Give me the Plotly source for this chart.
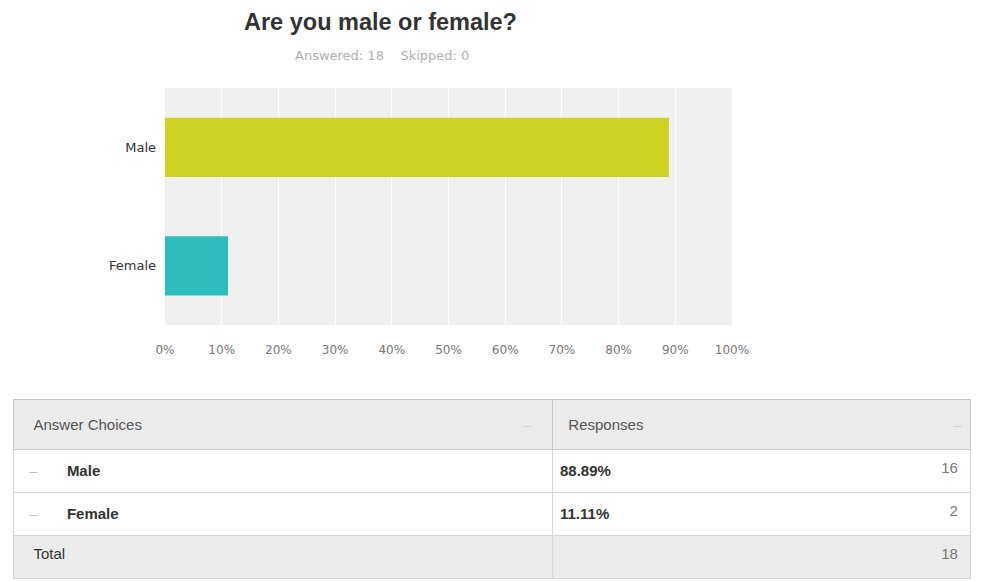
import plotly.graph_objects as go

# Survey question and responses
question = "Are you male or female?"
choices = ["Male", "Female"]
counts = [16, 2]
skipped = 0
bar_colors = ["#CDD424", "#2EBDBD"]
x_ticks = [0, 10, 20, 30, 40, 50, 60, 70, 80, 90, 100]
x_tick_text = [f"{v}%" for v in x_ticks]

answered = sum(counts)
percents = [c / answered * 100 for c in counts]

W, H = 982, 582
FONT = "Liberation Sans, Arial"

fig = go.Figure()

# Horizontal bar chart of the response shares
fig.add_trace(go.Bar(
    x=percents,
    y=choices,
    orientation="h",
    marker=dict(color=bar_colors, line=dict(width=0)),
    width=0.5,
    hoverinfo="skip",
    showlegend=False,
))

# Summary table
nb = "\u00a0"
dash = '<span style="color:#c4c4c4">\u2013</span>'
choice_cells = [f"{nb*2}{dash}{nb*7}<b>{c}</b>" for c in choices] + [f"{nb*3}Total"]
pct_cells = [f"<b>{p:.2f}%</b>" for p in percents] + [""]
count_cells = [f"{c}{nb}" for c in counts] + [f"{answered}{nb}"]

n_rows = len(choices) + 1
row_fill = ["white"] * len(choices) + ["#EBEBEB"]
tbl_top = 1 - 399 / H
tbl_x = [13 / W, 970 / W]
HDR_H, ROW_H = 50, 43
clear = "rgba(0,0,0,0)"

# Table frame: fills and rules
fig.add_trace(go.Table(
    domain=dict(x=tbl_x, y=[0, tbl_top]),
    columnwidth=[539, 418],
    header=dict(
        values=["", ""],
        fill_color="#EBEBEB",
        line=dict(color="#C8C8C8", width=1),
        height=HDR_H,
    ),
    cells=dict(
        values=[[""] * n_rows, [""] * n_rows],
        fill_color=[row_fill, row_fill],
        line=dict(color="#D6D6D6", width=1),
        height=ROW_H,
    ),
))

# Header text, nudged down to sit mid-row
hdr_shift = 12 / H
fig.add_trace(go.Table(
    domain=dict(x=tbl_x, y=[0, tbl_top - hdr_shift]),
    columnwidth=[539, 318, 100],
    header=dict(
        values=[
            f"{nb*3}Answer Choices",
            f"{nb*2}Responses",
            "",
        ],
        fill_color=clear,
        line=dict(color=clear, width=0),
        align="left",
        font=dict(family=FONT, size=15, color="#555555"),
        height=HDR_H,
    ),
    cells=dict(
        values=[[""] * n_rows] * 3,
        fill_color=clear,
        line=dict(color=clear, width=0),
        height=ROW_H,
    ),
))
fig.add_trace(go.Table(
    domain=dict(x=tbl_x, y=[0, tbl_top - hdr_shift]),
    columnwidth=[539, 318, 100],
    header=dict(
        values=[f"\u2013{nb*3}", "", "\u2013"],
        fill_color=clear,
        line=dict(color=clear, width=0),
        align="right",
        font=dict(family=FONT, size=15, color="#D0D0D0"),
        height=HDR_H,
    ),
    cells=dict(
        values=[[""] * n_rows] * 3,
        fill_color=clear,
        line=dict(color=clear, width=0),
        height=ROW_H,
    ),
))

# Body text: choices, percentages and counts
row_shift = 5 / H
fig.add_trace(go.Table(
    domain=dict(x=tbl_x, y=[0, tbl_top - row_shift]),
    columnwidth=[539, 318, 100],
    header=dict(
        values=["", "", ""],
        fill_color=clear,
        line=dict(color=clear, width=0),
        height=HDR_H,
    ),
    cells=dict(
        values=[choice_cells, pct_cells, count_cells],
        fill_color=clear,
        line=dict(color=clear, width=0),
        align=["left", "left", "right"],
        font=dict(family=FONT, size=15, color=["#333333", "#333333", "#777777"]),
        height=ROW_H,
    ),
))

fig.update_layout(
    width=W,
    height=H,
    margin=dict(l=0, r=0, t=0, b=0),
    paper_bgcolor="white",
    plot_bgcolor="#F0F0F0",
    xaxis=dict(
        domain=[165 / W, 732 / W],
        range=[0, 100],
        tickvals=x_ticks,
        ticktext=x_tick_text,
        automargin=False,
        showgrid=True,
        gridcolor="white",
        gridwidth=1,
        zeroline=False,
        showline=False,
        ticks="",
        ticklabelstandoff=16,
        fixedrange=True,
        tickfont=dict(family="DejaVu Sans", size=12, color="#777777"),
    ),
    yaxis=dict(
        domain=[1 - 325 / H, 1 - 88 / H],
        categoryorder="array",
        categoryarray=list(reversed(choices)),
        automargin=False,
        showgrid=False,
        zeroline=False,
        ticks="",
        ticklabelstandoff=8,
        fixedrange=True,
        tickfont=dict(family="DejaVu Sans", size=13, color="#333333"),
    ),
    annotations=[
        dict(
            text=f"<b>{question}</b>",
            x=380 / W, y=1 - 22 / H, xref="paper", yref="paper",
            xanchor="center", yanchor="middle", showarrow=False,
            font=dict(family=FONT, size=23.5, color="#333333"),
        ),
        dict(
            text=f"Answered: {answered}{nb*4}Skipped: {skipped}",
            x=382 / W, y=1 - 56 / H, xref="paper", yref="paper",
            xanchor="center", yanchor="middle", showarrow=False,
            font=dict(family="DejaVu Sans", size=13, color="#B0B0B0"),
        ),
    ],
)

fig.write_html("out.html")
